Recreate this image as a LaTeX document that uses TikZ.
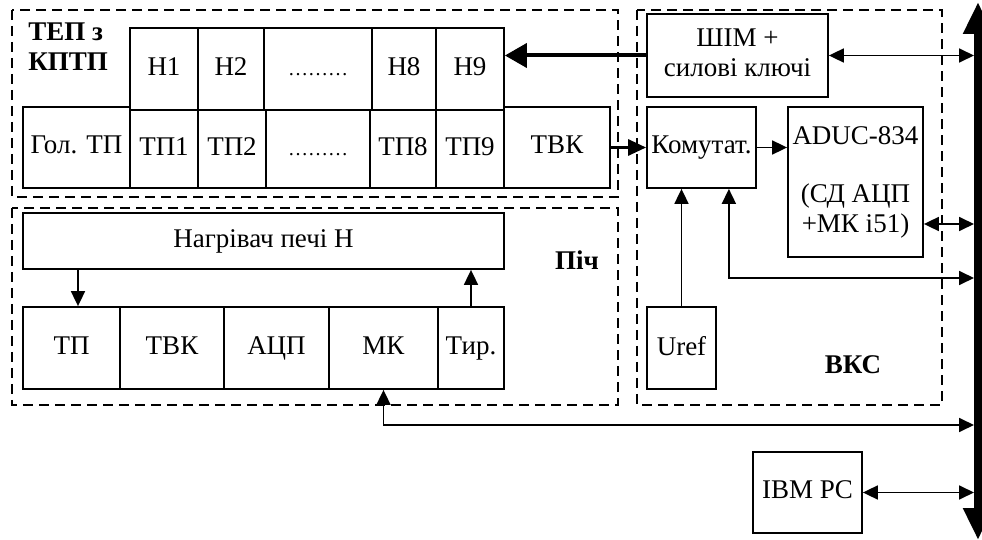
\documentclass[tikz,border=0pt]{standalone}
\usepackage{fontspec}
\setmainfont{Liberation Serif}
\usetikzlibrary{arrows.meta}
\newcommand{\cellstrut}{\rule[-2.5pt]{0pt}{11.5pt}}
\tikzset{
  blk/.style={draw, line width=0.9pt, inner sep=1pt, font=\fontsize{13.5}{15}\selectfont, align=center, execute at begin node=\cellstrut},
  grp/.style={draw, line width=1.2pt, dash pattern=on 5pt off 3pt},
  arr/.style={line width=0.9pt, -{Triangle[length=7.5pt,width=7pt]}},
  arrr/.style={line width=0.9pt, {Triangle[length=7.5pt,width=7pt]}-{Triangle[length=7.5pt,width=7pt]}},
  lbl/.style={font=\fontsize{13.5}{15}\selectfont\bfseries, inner sep=0pt}
}
\begin{document}
\begin{tikzpicture}[x=0.5pt,y=-0.5pt]
\useasboundingbox (0,0) rectangle (982,540);
% groups
\draw[grp] (12,10) rectangle (618,197);
\draw[grp] (12,208) rectangle (618,405);
\draw[grp] (637,10) rectangle (942,405);
\node[lbl, anchor=north west, align=left] (teplbl) at (28,22) {ТЕП з\\КПТП};
\node[lbl] (pichlbl) at (577,260) {Піч};
\node[lbl] (vkslbl) at (853,365) {ВКС};
% heaters
\node[blk, minimum width=34pt, minimum height=41pt] (h1) at (164,69) {Н1};
\node[blk, minimum width=33pt, minimum height=41pt] (h2) at (231,69) {Н2};
\node[blk, minimum width=54pt, minimum height=41pt] (hdots) at (318,69) {\fontsize{10}{12}\selectfont ………};
\node[blk, minimum width=32pt, minimum height=41pt] (h8) at (404,69) {Н8};
\node[blk, minimum width=34pt, minimum height=41pt] (h9) at (470,69) {Н9};
% thermocouples
\node[blk, minimum width=53.5pt, minimum height=40.5pt] (gol) at (76.5,147.5) {Гол. ТП};
\node[blk, minimum width=34pt, minimum height=39pt] (tp1) at (164,149) {ТП1};
\node[blk, minimum width=34pt, minimum height=39pt] (tp2) at (232,149) {ТП2};
\node[blk, minimum width=52pt, minimum height=39pt] (tpdots) at (318,149) {\fontsize{10}{12}\selectfont ………};
\node[blk, minimum width=33pt, minimum height=39pt] (tp8) at (403,149) {ТП8};
\node[blk, minimum width=34pt, minimum height=39pt] (tp9) at (470,149) {ТП9};
\node[blk, minimum width=53pt, minimum height=40.5pt] (tvk) at (557,147.5) {ТВК};
% furnace
\node[blk, minimum width=240.5pt, minimum height=28pt] (heater) at (263.5,241) {Нагрівач печі Н};
\node[blk, minimum width=48.5pt, minimum height=41pt] (ptp) at (71.5,348) {ТП};
\node[blk, minimum width=52pt, minimum height=41pt] (ptvk) at (172,348) {ТВК};
\node[blk, minimum width=52.5pt, minimum height=41pt] (adc) at (276.5,348) {АЦП};
\node[blk, minimum width=54.5pt, minimum height=41pt] (mk) at (383.5,348) {МК};
\node[blk, minimum width=33pt, minimum height=41pt] (tyr) at (471,348) {Тир.};
% vks
\node[blk, minimum width=90.5pt, minimum height=41.5pt] (shim) at (737.5,55.5) {ШІМ +\\силові ключі};
\node[blk, minimum width=54.5pt, minimum height=40.5pt] (kom) at (701.5,147.5) {Комутат.};
\node[blk, minimum width=67.5pt, minimum height=75pt] (aduc) at (855.5,182) {ADUC-834\\[14pt](СД АЦП\\+МК і51)};
\node[blk, minimum width=34.5pt, minimum height=41pt] (uref) at (681.5,348) {Uref};
\node[blk, minimum width=54.5pt, minimum height=40.5pt] (ibm) at (807.5,492.5) {IBM PC};
% bus
\coordinate (bustop) at (978,2);
\coordinate (busbot) at (978,540);
\draw[line width=4pt, {Triangle[length=16pt,width=14pt]}-{Triangle[length=16pt,width=14pt]}] (bustop) -- (busbot);
\coordinate (b1) at (974,55);
\coordinate (b2) at (974,224);
\coordinate (b3) at (974,278);
\coordinate (b4) at (974,425);
\coordinate (b5) at (974,492);
% links
\draw[line width=2pt, -{Triangle[length=11pt,width=12pt]}] (shim.west) -- (shim.west -| h9.east);
\draw[line width=1.5pt, -{Triangle[length=9pt,width=8pt]}] (tvk.east) -- (kom.west);
\draw[arr] (kom.east) -- (kom.east -| aduc.west);
\draw[arrr] (shim.east) -- (shim.east -| b1);
\draw[arrr] (aduc.east |- b2) -- (b2);
\draw[arrr] ([xshift=-14pt]kom.south east) |- (b3);
\draw[arr] (uref.north) -- (uref.north |- kom.south);
\draw[arr] (heater.south -| 78,0) -- (ptp.north -| 78,0);
\draw[arr] (tyr.north) -- (tyr.north |- heater.south);
\draw[arrr] (mk.south) |- (b4);
\draw[arrr] (ibm.east) -- (ibm.east -| b5);
\end{tikzpicture}
\end{document}
